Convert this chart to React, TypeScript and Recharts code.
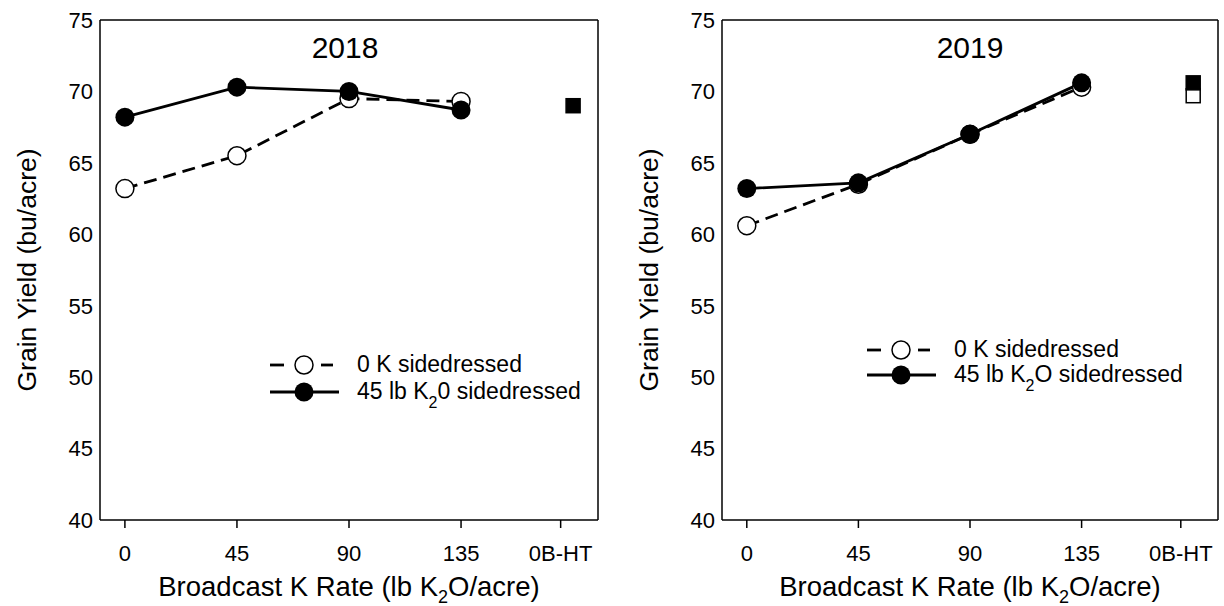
import React from 'react';
import { Legend, Line, LineChart, XAxis, YAxis } from 'recharts';

const FONT = '"Liberation Sans", Arial, Helvetica, sans-serif';

// broadcast K rates (lb K2O/acre) and the check position
const rates = [0, 45, 90, 135];
const checkX = 180;
const xTicks = [0, 45, 90, 135, 175];
const xTickLabels = ['0', '45', '90', '135', '0B-HT'];
const yTicks = [40, 45, 50, 55, 60, 65, 70, 75];

// 2018 grain yield (bu/acre)
const noK2018 = [63.2, 65.5, 69.5, 69.3];
const sideK2018 = [68.2, 70.3, 70.0, 68.7];
const checkFilled2018 = [69.0];
const checkOpen2018: number[] = [];

// 2019 grain yield (bu/acre)
const noK2019 = [60.6, 63.5, 67.0, 70.3];
const sideK2019 = [63.2, 63.6, 67.0, 70.6];
const checkFilled2019 = [70.6];
const checkOpen2019 = [69.7];

const legendNoK = '0 K sidedressed';
const legendSide2018 = ['45 lb K', '2', '0 sidedressed'];
const legendSide2019 = ['45 lb K', '2', 'O sidedressed'];

const toPts = (ys: number[]) => ys.map((y, i) => ({ x: rates[i], y }));
const checkPts = (ys: number[]) => ys.map((y) => ({ x: checkX, y }));

const squareDot = (fill: string) => (p: any) => (
  <rect
    key={`sq-${fill}-${p.index}`}
    x={p.cx - 7}
    y={p.cy - 7}
    width={14}
    height={14}
    fill={fill}
    stroke="#000"
    strokeWidth={1.5}
  />
);

function YTitle({ viewBox, dx }: any) {
  const cx = viewBox.x + dx;
  const cy = viewBox.y + viewBox.height / 2;
  return (
    <text
      x={cx}
      y={cy}
      transform={`rotate(-90 ${cx} ${cy})`}
      textAnchor="middle"
      fontSize={26.5}
      fontFamily={FONT}
      fill="#000"
    >
      Grain Yield (bu/acre)
    </text>
  );
}

function XTitle({ viewBox }: any) {
  const cx = viewBox.x + viewBox.width / 2;
  return (
    <text x={cx} y={viewBox.y + 76} textAnchor="middle" fontSize={27.5} fontFamily={FONT} fill="#000">
      <tspan>Broadcast K Rate (lb K</tspan>
      <tspan fontSize={18} dy={7}>
        2
      </tspan>
      <tspan dy={-7}>O/acre)</tspan>
    </text>
  );
}

function YearTitle({ viewBox, text, dx }: any) {
  return (
    <text
      x={viewBox.x + viewBox.width / 2 + dx}
      y={viewBox.y + 39}
      textAnchor="middle"
      fontSize={30}
      fontFamily={FONT}
      fill="#000"
    >
      {text}
    </text>
  );
}

function LegendBox({ side, rowGap }: { side: string[]; rowGap: number }) {
  const r1 = 20;
  const r2 = 20 + rowGap;
  return (
    <svg width={380} height={70} style={{ display: 'block', overflow: 'visible' }}>
      <line x1={8} x2={22} y1={r1} y2={r1} stroke="#000" strokeWidth={2.8} />
      <line x1={59} x2={71} y1={r1} y2={r1} stroke="#000" strokeWidth={2.8} />
      <circle cx={42} cy={r1} r={9} fill="#fff" stroke="#000" strokeWidth={1.5} />
      <text x={95} y={r1 + 7} fontSize={23} fontFamily={FONT} fill="#000">
        {legendNoK}
      </text>
      <line x1={8} x2={77} y1={r2} y2={r2} stroke="#000" strokeWidth={2.8} />
      <circle cx={42} cy={r2} r={9.5} fill="#000" />
      <text x={95} y={r2 + 7} fontSize={23} fontFamily={FONT} fill="#000">
        <tspan>{side[0]}</tspan>
        <tspan fontSize={16} dy={9}>
          {side[1]}
        </tspan>
        <tspan dy={-9}>{side[2]}</tspan>
      </text>
    </svg>
  );
}

interface PanelProps {
  left: number;
  title: string;
  titleDx: number;
  noK: number[];
  sideK: number[];
  checkFilled: number[];
  checkOpen: number[];
  side: string[];
  yAxisWidth: number;
  marginRight: number;
  yTitleX: number;
  legendLeft: number;
  legendTop: number;
  rowGap: number;
}

function Panel(p: PanelProps) {
  const tickStyle = { fill: '#000', fontSize: 22, fontFamily: FONT };
  const axisLine = { stroke: '#000', strokeWidth: 1.5 };
  return (
    <div style={{ position: 'absolute', left: p.left, top: 0 }}>
      <LineChart width={612} height={606} margin={{ top: 19, right: p.marginRight, bottom: 0, left: 0 }}>
        <XAxis
          dataKey="x"
          type="number"
          domain={[-10, 190]}
          ticks={xTicks}
          tickFormatter={(v: number) => xTickLabels[xTicks.indexOf(v)]}
          tick={tickStyle}
          tickSize={8}
          tickMargin={17}
          tickLine={axisLine}
          axisLine={axisLine}
          height={86}
          label={<XTitle />}
        />
        <XAxis
          xAxisId="top"
          orientation="top"
          dataKey="x"
          type="number"
          domain={[-10, 190]}
          ticks={xTicks}
          tick={false}
          tickLine={false}
          axisLine={axisLine}
          height={1}
          label={<YearTitle text={p.title} dx={p.titleDx} />}
        />
        <YAxis
          type="number"
          domain={[40, 75]}
          ticks={yTicks}
          tick={tickStyle}
          tickLine={false}
          tickSize={0}
          tickMargin={7}
          axisLine={axisLine}
          width={p.yAxisWidth}
          label={<YTitle dx={p.yTitleX} />}
        />
        <YAxis
          yAxisId="inner"
          orientation="left"
          mirror
          type="number"
          domain={[40, 75]}
          ticks={yTicks}
          tick={false}
          tickSize={8}
          tickLine={axisLine}
          axisLine={false}
          width={1}
        />
        <YAxis
          yAxisId="right"
          orientation="right"
          mirror
          type="number"
          domain={[40, 75]}
          ticks={yTicks}
          tick={false}
          tickSize={8}
          tickLine={axisLine}
          axisLine={axisLine}
          width={1}
        />
        <Legend
          layout="vertical"
          align="center"
          verticalAlign="middle"
          wrapperStyle={{ left: p.legendLeft, top: p.legendTop, width: 380 }}
          content={() => <LegendBox side={p.side} rowGap={p.rowGap} />}
        />
        <Line
          data={toPts(p.noK)}
          dataKey="y"
          name="0 K sidedressed"
          stroke="#000"
          strokeWidth={2.8}
          strokeDasharray="13 7"
          dot={{ r: 9, fill: '#fff', stroke: '#000', strokeWidth: 1.5, strokeDasharray: '' }}
          activeDot={false}
          isAnimationActive={false}
        />
        <Line
          data={toPts(p.sideK)}
          dataKey="y"
          name="45 lb K2O sidedressed"
          stroke="#000"
          strokeWidth={2.8}
          dot={{ r: 9.5, fill: '#000', stroke: 'none' }}
          activeDot={false}
          isAnimationActive={false}
        />
        <Line
          data={checkPts(p.checkOpen)}
          dataKey="y"
          name="check open"
          stroke="none"
          legendType="none"
          dot={squareDot('#fff')}
          activeDot={false}
          isAnimationActive={false}
        />
        <Line
          data={checkPts(p.checkFilled)}
          dataKey="y"
          name="check filled"
          stroke="none"
          legendType="none"
          dot={squareDot('#000')}
          activeDot={false}
          isAnimationActive={false}
        />
      </LineChart>
    </div>
  );
}

export default function App() {
  return (
    <div style={{ position: 'absolute', left: 0, top: 0, width: 1224, height: 606, background: '#fff' }}>
      <Panel
        left={0}
        title="2018"
        titleDx={-4}
        noK={noK2018}
        sideK={sideK2018}
        checkFilled={checkFilled2018}
        checkOpen={checkOpen2018}
        side={legendSide2018}
        yAxisWidth={100}
        marginRight={14}
        yTitleX={36}
        legendLeft={262}
        legendTop={345}
        rowGap={27}
      />
      <Panel
        left={612}
        title="2019"
        titleDx={0}
        noK={noK2019}
        sideK={sideK2019}
        checkFilled={checkFilled2019}
        checkOpen={checkOpen2019}
        side={legendSide2019}
        yAxisWidth={110}
        marginRight={6}
        yTitleX={46}
        legendLeft={247}
        legendTop={330}
        rowGap={25}
      />
    </div>
  );
}
